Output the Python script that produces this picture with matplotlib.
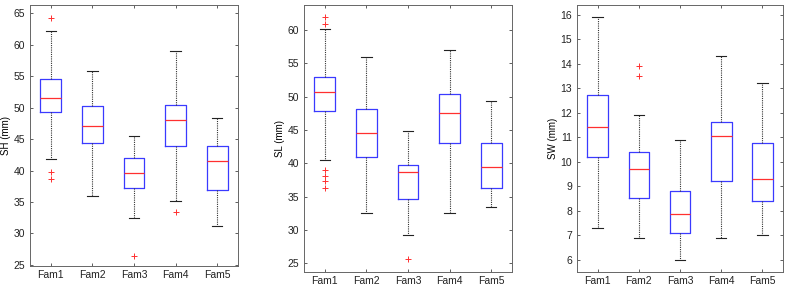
import matplotlib.pyplot as plt

plt.rcParams['font.family'] = ['Liberation Sans', 'DejaVu Sans']
plt.rcParams['font.size'] = 7

fams = ["Fam1", "Fam2", "Fam3", "Fam4", "Fam5"]

# SH (mm)
sh_lo = [41.8, 35.9, 32.4, 35.2, 31.2]
sh_q1 = [49.3, 44.4, 37.2, 43.9, 36.9]
sh_med = [51.5, 47.1, 39.6, 48.1, 41.5]
sh_q3 = [54.5, 50.3, 42.0, 50.5, 43.9]
sh_hi = [62.2, 55.9, 45.5, 59.0, 48.3]
sh_out = [[64.3, 39.7, 38.7], [], [26.4], [33.4], []]

# SL (mm)
sl_lo = [40.5, 32.5, 29.3, 32.5, 33.4]
sl_q1 = [47.9, 41.0, 34.7, 43.0, 36.3]
sl_med = [50.7, 44.5, 38.7, 47.6, 39.5]
sl_q3 = [53.0, 48.1, 39.8, 50.4, 43.1]
sl_hi = [60.1, 56.0, 44.9, 57.0, 49.4]
sl_out = [[62.0, 60.95, 39.0, 38.1, 37.3, 36.3], [], [25.6], [], []]

# SW (mm)
sw_lo = [7.3, 6.9, 6.0, 6.9, 7.0]
sw_q1 = [10.2, 8.5, 7.1, 9.2, 8.4]
sw_med = [11.4, 9.7, 7.85, 11.05, 9.3]
sw_q3 = [12.7, 10.4, 8.8, 11.6, 10.75]
sw_hi = [15.9, 11.9, 10.9, 14.3, 13.2]
sw_out = [[], [13.9, 13.5], [], [], []]

panels = [
    ("SH (mm)", sh_lo, sh_q1, sh_med, sh_q3, sh_hi, sh_out, (24.8, 66.4), range(25, 70, 5), [30, 238, 4.7, 266]),
    ("SL (mm)", sl_lo, sl_q1, sl_med, sl_q3, sl_hi, sl_out, (23.7, 63.8), range(25, 65, 5), [304, 512, 4.7, 272]),
    ("SW (mm)", sw_lo, sw_q1, sw_med, sw_q3, sw_hi, sw_out, (5.5, 16.4), range(6, 17), [577, 783, 4.7, 272]),
]

W, H = 787, 286
fig = plt.figure(figsize=(W / 100, H / 100), dpi=100)

for label, lo, q1, med, q3, hi, out, ylim, yticks, (x0, x1, y0, y1) in panels:
    ax = fig.add_axes([x0 / W, 1 - y1 / H, (x1 - x0) / W, (y1 - y0) / H])
    stats = []
    for i in range(len(fams)):
        stats.append(dict(label=fams[i], whislo=lo[i], q1=q1[i], med=med[i],
                          q3=q3[i], whishi=hi[i], fliers=out[i]))
    ax.bxp(stats, widths=0.5, capwidths=0.25,
           boxprops=dict(color="#3a3aff", linewidth=0.9),
           medianprops=dict(color="#ff3030", linewidth=0.9),
           whiskerprops=dict(color="#333333", linewidth=0.8, linestyle=(0, (1, 1))),
           capprops=dict(color="#222222", linewidth=0.8),
           flierprops=dict(marker="+", markeredgecolor="#ff3030", markersize=5, markeredgewidth=0.7))
    ax.set_xlim(0.5, 5.5)
    ax.set_ylim(*ylim)
    ax.set_yticks(list(yticks))
    ax.set_ylabel(label, labelpad=2)
    ax.tick_params(direction="in", top=True, right=True, length=2.5, width=0.6,
                   colors="#444444", labelcolor="#222222", labelsize=7.5)
    ax.tick_params(axis="x", labelsize=7.5, pad=3)
    for s in ax.spines.values():
        s.set_color("#666666")
        s.set_linewidth(0.7)

fig.savefig("out.png", dpi=100)
